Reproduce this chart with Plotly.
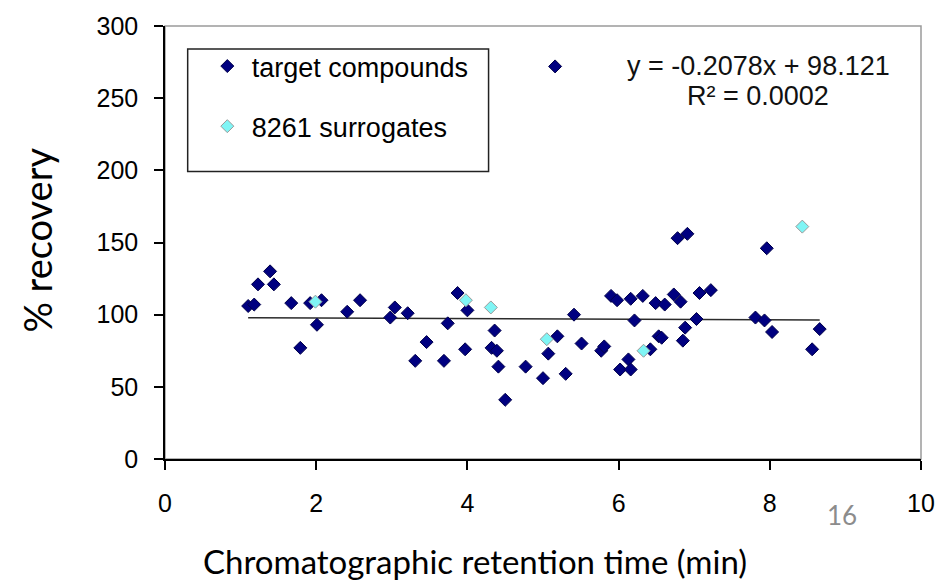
import plotly.graph_objects as go

# Recovery (%) vs. chromatographic retention time (min)
target_x = [1.10, 1.18, 1.23, 1.39, 1.44, 1.67, 1.79, 1.92, 2.07, 2.01,
            2.41, 2.58, 2.98, 3.04, 3.21, 3.31, 3.46, 3.69, 3.74, 3.87,
            4.00, 3.97, 4.36, 4.32, 4.39, 4.41, 4.50, 4.77, 5.00, 5.07,
            5.19, 5.30, 5.41, 5.51, 5.77, 5.81, 5.90, 5.98, 6.02, 6.16,
            6.32, 6.21, 6.13, 6.16, 6.42, 6.49, 6.61, 6.53, 6.57, 6.73,
            6.82, 6.78, 6.91, 6.88, 6.85, 7.03, 7.07, 7.22, 7.81, 7.93,
            8.03, 7.96, 8.56, 8.66, 5.16]
target_y = [106, 107, 121, 130, 121, 108, 77, 108, 110, 93,
            102, 110, 98, 105, 101, 68, 81, 68, 94, 115,
            103, 76, 89, 77, 75, 64, 41, 64, 56, 73,
            85, 59, 100, 80, 75, 78, 113, 110, 62, 111,
            113, 96, 69, 62, 76, 108, 107, 85, 84, 114,
            109, 153, 156, 91, 82, 97, 115, 117, 98, 96,
            88, 146, 76, 90, 272]

surrogate_x = [1.99, 3.98, 4.31, 5.05, 6.33, 8.43]
surrogate_y = [109, 110, 105, 83, 75, 161]

# Linear trendline of the target compounds
slope = -0.2078
intercept = 98.121
r_squared = 0.0002

x_ticks = [0, 2, 4, 6, 8, 10]
y_ticks = [0, 50, 100, 150, 200, 250, 300]

trend_x = [min(target_x), max(target_x)]
trend_y = [slope * v + intercept for v in trend_x]

ARIAL = "Liberation Sans, Arial"
CALIBRI = "Lato, Carlito, Calibri"

fig = go.Figure()

fig.add_trace(go.Scatter(
    x=trend_x, y=trend_y, mode="lines",
    line=dict(color="#2b2b2b", width=1.5),
    showlegend=False, hoverinfo="skip",
))

fig.add_trace(go.Scatter(
    x=target_x, y=target_y, mode="markers", name="target compounds",
    legendgroup="a",
    marker=dict(symbol="diamond", size=10, color="#000080",
                line=dict(color="#00004a", width=1)),
))

fig.add_trace(go.Scatter(
    x=surrogate_x, y=surrogate_y, mode="markers", name="8261 surrogates",
    legendgroup="b",
    marker=dict(symbol="diamond", size=10, color="#7ff5f5",
                line=dict(color="#9a9a9a", width=1)),
))

eq_text = f"y = {slope:.4f}x + {intercept:.3f}"
r2_text = f"R² = {r_squared:.4f}"

annotations = [
    dict(text=eq_text, xref="paper", yref="paper", x=0.785, y=0.907,
         showarrow=False, xanchor="center", yanchor="middle",
         font=dict(family=ARIAL, size=27, color="#111")),
    dict(text=r2_text, xref="paper", yref="paper", x=0.785, y=0.839,
         showarrow=False, xanchor="center", yanchor="middle",
         font=dict(family=ARIAL, size=27, color="#111")),
    dict(text="% recovery", xref="paper", yref="paper", x=-0.169, y=0.505,
         textangle=-90, showarrow=False, xanchor="center", yanchor="middle",
         font=dict(family=CALIBRI, size=38, color="#000")),
    dict(text="Chromatographic retention time (min)", xref="paper",
         yref="paper", x=0.41, y=-0.235, showarrow=False,
         xanchor="center", yanchor="middle",
         font=dict(family=CALIBRI, size=33, color="#000")),
    dict(text="16", xref="paper", yref="paper", x=0.896, y=-0.13,
         showarrow=False, xanchor="center", yanchor="middle",
         font=dict(family=CALIBRI, size=26, color="#8c8c8c")),
]

shapes = [
    # plot-area border
    dict(type="rect", xref="paper", yref="paper", x0=0, y0=0, x1=1, y1=1,
         line=dict(color="#9a9a9a", width=1.5), layer="below"),
    # legend frame
    dict(type="rect", xref="paper", yref="paper",
         x0=0.030, y0=0.664, x1=0.428, y1=0.947,
         line=dict(color="#222", width=1.5), layer="below"),
]

fig.update_layout(
    width=947, height=584,
    margin=dict(l=165, r=16, t=25, b=125),
    paper_bgcolor="white", plot_bgcolor="white",
    font=dict(family=ARIAL, size=25, color="#000"),
    showlegend=True,
    legend=dict(x=0.05, y=0.963, xanchor="left", yanchor="top",
                bgcolor="rgba(0,0,0,0)", borderwidth=0,
                font=dict(family=ARIAL, size=27),
                tracegroupgap=22, itemwidth=39, itemsizing="trace"),
    annotations=annotations,
    shapes=shapes,
    xaxis=dict(range=[0, 10], tickvals=x_ticks, showgrid=False,
               zeroline=False, showline=True, linecolor="#000", linewidth=1.5,
               ticks="outside", ticklen=9, tickcolor="#000", tickwidth=1.5,
               ticklabelstandoff=12,
               tickfont=dict(family=ARIAL, size=25)),
    yaxis=dict(range=[0, 300], tickvals=y_ticks, showgrid=False,
               zeroline=False, showline=True, linecolor="#000", linewidth=1.5,
               ticks="outside", ticklen=9, tickcolor="#000", tickwidth=1.5,
               ticklabelstandoff=11,
               tickfont=dict(family=ARIAL, size=25)),
)

fig.write_html("out.html")
